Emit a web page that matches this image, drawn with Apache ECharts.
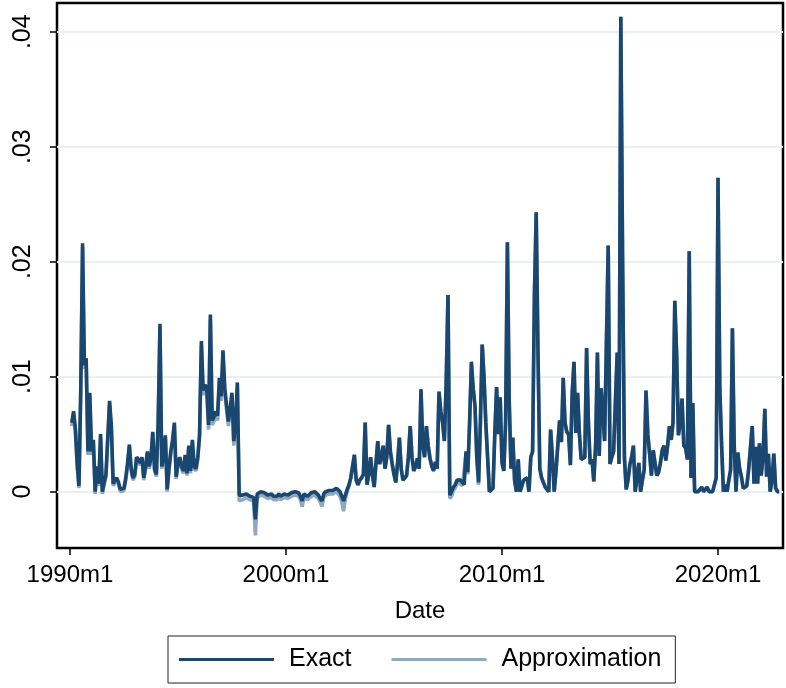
<!DOCTYPE html>
<html>
<head>
<meta charset="utf-8">
<script src="https://cdn.jsdelivr.net/npm/echarts@6/dist/echarts.min.js"></script>
<style>
html, body { margin: 0; padding: 0; background: #fff; }
#chart { width: 786px; height: 688px; }
</style>
</head>
<body>
<div id="chart"></div>
<script>
// first observation is 1990m2, months counted from 1990m1
var startMonth = 1;
var xTicks = [0, 120, 240, 360];
var yTicks = [0, 0.01, 0.02, 0.03, 0.04];

// Exact, one array per year
var ex1990 = [0.0060, 0.0070, 0.0055, 0.0025, 0.0005, 0.0090, 0.0216, 0.0110, 0.0116, 0.0035, 0.0086];
var ex1991 = [0.0035, 0.0045, 0.0000, 0.0022, 0.0007, 0.0050, 0.0000, 0.0008, 0.0015, 0.0015, 0.0079, 0.0057];
var ex1992 = [0.0007, 0.0010, 0.0012, 0.0008, 0.0002, 0.0003, 0.0003, 0.0012, 0.0025, 0.0041, 0.0020, 0.0012];
var ex1993 = [0.0015, 0.0030, 0.0028, 0.0025, 0.0030, 0.0012, 0.0022, 0.0035, 0.0022, 0.0030, 0.0052, 0.0020];
var ex1994 = [0.0015, 0.0060, 0.0146, 0.0022, 0.0030, 0.0049, 0.0002, 0.0020, 0.0035, 0.0045, 0.0060, 0.0013];
var ex1995 = [0.0025, 0.0030, 0.0022, 0.0018, 0.0032, 0.0016, 0.0040, 0.0018, 0.0045, 0.0022, 0.0020, 0.0030];
var ex1996 = [0.0050, 0.0131, 0.0088, 0.0093, 0.0090, 0.0058, 0.0154, 0.0062, 0.0065, 0.0070, 0.0066, 0.0099];
var ex1997 = [0.0083, 0.0123, 0.0090, 0.0075, 0.0061, 0.0073, 0.0086, 0.0044, 0.0060, 0.0095, -0.0003, -0.0003];
var ex1998 = [-0.0003, -0.0002, -0.0002, -0.0003, -0.0004, -0.0005, -0.0005, -0.0024, -0.0002, -0.0001, 0.0000, 0.0000];
var ex1999 = [-0.0001, -0.0002, -0.0003, -0.0003, -0.0002, -0.0004, -0.0003, -0.0004, -0.0002, -0.0004, -0.0003, -0.0002];
var ex2000 = [-0.0002, -0.0003, -0.0002, -0.0001, 0.0000, 0.0000, 0.0000, -0.0001, -0.0004, -0.0008, -0.0002, -0.0002];
var ex2001 = [-0.0004, -0.0003, -0.0001, 0.0000, 0.0000, -0.0001, -0.0003, -0.0006, -0.0008, -0.0002, 0.0000, 0.0000];
var ex2002 = [0.0001, 0.0001, 0.0001, 0.0002, 0.0003, 0.0003, 0.0000, -0.0004, -0.0008, -0.0003, 0.0002, 0.0006];
var ex2003 = [0.0012, 0.0022, 0.0032, 0.0010, 0.0006, 0.0010, 0.0012, 0.0015, 0.0060, 0.0006, 0.0015, 0.0030];
var ex2004 = [0.0015, 0.0004, 0.0025, 0.0044, 0.0024, 0.0030, 0.0040, 0.0020, 0.0030, 0.0058, 0.0035, 0.0024];
var ex2005 = [0.0015, 0.0008, 0.0025, 0.0047, 0.0020, 0.0010, 0.0012, 0.0014, 0.0030, 0.0057, 0.0030, 0.0018];
var ex2006 = [0.0022, 0.0029, 0.0020, 0.0089, 0.0040, 0.0030, 0.0057, 0.0040, 0.0029, 0.0022, 0.0018, 0.0026];
var ex2007 = [0.0020, 0.0087, 0.0070, 0.0060, 0.0044, 0.0095, 0.0171, -0.0003, 0.0000, 0.0004, 0.0006, 0.0010];
var ex2008 = [0.0010, 0.0010, 0.0008, 0.0006, 0.0035, 0.0017, 0.0060, 0.0113, 0.0090, 0.0075, 0.0030, 0.0008];
var ex2009 = [0.0060, 0.0128, 0.0100, 0.0060, 0.0030, 0.0000, 0.0000, 0.0003, 0.0050, 0.0091, 0.0050, 0.0082];
var ex2010 = [0.0025, 0.0018, 0.0060, 0.0217, 0.0080, 0.0020, 0.0047, 0.0010, 0.0000, 0.0028, 0.0000, 0.0005];
var ex2011 = [0.0010, 0.0010, 0.0012, 0.0000, 0.0030, 0.0035, 0.0170, 0.0243, 0.0120, 0.0020, 0.0012, 0.0008];
var ex2012 = [0.0004, 0.0002, 0.0000, 0.0054, 0.0030, 0.0000, 0.0018, 0.0018, 0.0062, 0.0043, 0.0099, 0.0060];
var ex2013 = [0.0052, 0.0050, 0.0023, 0.0086, 0.0113, 0.0051, 0.0086, 0.0050, 0.0028, 0.0027, 0.0030, 0.0125];
var ex2014 = [0.0060, 0.0024, 0.0028, 0.0009, 0.0040, 0.0121, 0.0031, 0.0090, 0.0070, 0.0044, 0.0044, 0.0214];
var ex2015 = [0.0024, 0.0030, 0.0035, 0.0036, 0.0121, 0.0024, 0.0413, 0.0200, 0.0030, 0.0002, 0.0010, 0.0023];
var ex2016 = [0.0030, 0.0040, 0.0000, 0.0000, 0.0025, 0.0000, 0.0010, 0.0019, 0.0088, 0.0050, 0.0033, 0.0014];
var ex2017 = [0.0036, 0.0025, 0.0014, 0.0017, 0.0025, 0.0036, 0.0040, 0.0027, 0.0040, 0.0057, 0.0045, 0.0060];
var ex2018 = [0.0166, 0.0120, 0.0049, 0.0060, 0.0081, 0.0040, 0.0038, 0.0028, 0.0209, 0.0012, 0.0077, 0.0000];
var ex2019 = [0.0000, 0.0000, 0.0000, 0.0004, 0.0000, 0.0000, 0.0004, 0.0000, 0.0000, 0.0000, 0.0000, 0.0012];
var ex2020 = [0.0273, 0.0090, 0.0040, 0.0000, 0.0006, 0.0000, 0.0010, 0.0019, 0.0142, 0.0040, 0.0000, 0.0034];
var ex2021 = [0.0020, 0.0013, 0.0003, 0.0003, 0.0005, 0.0019, 0.0019, 0.0057, 0.0007, 0.0039, 0.0007, 0.0042];
var ex2022 = [0.0014, 0.0030, 0.0072, 0.0013, 0.0033, 0.0000, 0.0010, 0.0033, 0.0003, 0.0000, 0.0000];

// Approximation, where it sits visibly apart from Exact
var ap1990 = [0.0057, 0.0067, 0.0052, 0.0022, 0.0003, 0.0087, 0.0213, 0.0107, 0.0113, 0.0032, 0.0083];
var ap1991 = [0.0032, 0.0042, -0.0002, 0.0019, 0.0005, 0.0047, -0.0002, 0.0006, 0.0013, 0.0013, 0.0076, 0.0054];
var ap1992 = [0.0005, 0.0008, 0.0010, 0.0006, 0.0000, 0.0001, 0.0001, 0.0010, 0.0023, 0.0039, 0.0018, 0.0010];
var ap1993 = [0.0013, 0.0028, 0.0026, 0.0023, 0.0028, 0.0010, 0.0020, 0.0033, 0.0020, 0.0028, 0.0050, 0.0018];
var ap1994 = [0.0013, 0.0058, 0.0143, 0.0020, 0.0028, 0.0047, 0.0000, 0.0018, 0.0033, 0.0043, 0.0058, 0.0011];
var ap1995 = [0.0023, 0.0028, 0.0020, 0.0016, 0.0030, 0.0014, 0.0038, 0.0016, 0.0043, 0.0020, 0.0018, 0.0028];
var ap1996 = [0.0047, 0.0127, 0.0084, 0.0089, 0.0086, 0.0054, 0.0150, 0.0058, 0.0061, 0.0066, 0.0062, 0.0095];
var ap1997 = [0.0079, 0.0119, 0.0086, 0.0071, 0.0057, 0.0069, 0.0082, 0.0040, 0.0056, 0.0091, -0.0008, -0.0007];
var ap1998 = [-0.0007, -0.0006, -0.0005, -0.0006, -0.0007, -0.0008, -0.0008, -0.0038, -0.0005, -0.0004, -0.0003, -0.0003];
var ap1999 = [-0.0004, -0.0005, -0.0006, -0.0006, -0.0005, -0.0007, -0.0006, -0.0007, -0.0005, -0.0007, -0.0006, -0.0005];
var ap2000 = [-0.0005, -0.0006, -0.0005, -0.0004, -0.0003, -0.0003, -0.0003, -0.0004, -0.0007, -0.0013, -0.0005, -0.0005];
var ap2001 = [-0.0007, -0.0006, -0.0004, -0.0003, -0.0003, -0.0004, -0.0006, -0.0009, -0.0013, -0.0005, -0.0003, -0.0003];
var ap2002 = [-0.0002, -0.0002, -0.0002, -0.0001, 0.0000, 0.0000, -0.0004, -0.0009, -0.0017, -0.0006, 0.0000, 0.0005];
var ap2007 = [0.0020, 0.0087, 0.0070, 0.0060, 0.0044, 0.0095, 0.0171, -0.0006, -0.0004, 0.0001, 0.0003, 0.0007];
var ap2008 = [0.0007, 0.0007, 0.0005, 0.0004, 0.0033, 0.0015, 0.0058, 0.0111, 0.0088, 0.0073, 0.0028, 0.0006];

var exact = [].concat(ex1990, ex1991, ex1992, ex1993, ex1994, ex1995, ex1996, ex1997, ex1998, ex1999,
    ex2000, ex2001, ex2002, ex2003, ex2004, ex2005, ex2006, ex2007, ex2008, ex2009, ex2010,
    ex2011, ex2012, ex2013, ex2014, ex2015, ex2016, ex2017, ex2018, ex2019, ex2020, ex2021, ex2022);
// 2003-2006 and 2009 onwards the two lines lie on top of each other
var approx = [].concat(ap1990, ap1991, ap1992, ap1993, ap1994, ap1995, ap1996, ap1997, ap1998, ap1999,
    ap2000, ap2001, ap2002, ex2003, ex2004, ex2005, ex2006, ap2007, ap2008, ex2009, ex2010,
    ex2011, ex2012, ex2013, ex2014, ex2015, ex2016, ex2017, ex2018, ex2019, ex2020, ex2021, ex2022);

function toPairs(arr){
    return arr.map(function (v, i) { return [startMonth + i, v]; });
}

var font = "'Liberation Sans', Arial, sans-serif";
var myChart = echarts.init(document.getElementById('chart'));

var option = {
    animation: false,
    backgroundColor: '#fff',
    textStyle: { fontFamily: font },
    grid: {
        left: 57,
        right: 3,
        top: 3,
        bottom: 140,
        show: true,
        borderColor: '#000',
        borderWidth: 2.5
    },
    legend: {
        left: 168,
        top: 636,
        orient: 'horizontal',
        icon: 'rect',
        itemWidth: 95,
        itemHeight: 3,
        itemGap: 40,
        padding: [11, 14, 11, 11],
        borderColor: '#222',
        borderWidth: 1,
        textStyle: { fontSize: 25, color: '#000', fontFamily: font, padding: [0, 0, 0, 10] },
        data: ['Exact', 'Approximation']
    },
    xAxis: {
        type: 'value',
        min: -7.2,
        max: 396.1,
        name: 'Date',
        nameLocation: 'middle',
        nameGap: 51,
        nameTextStyle: { fontSize: 24, color: '#000', fontFamily: font },
        axisLine: { show: false, onZero: false },
        axisTick: { show: true, length: 7, customValues: xTicks, lineStyle: { color: '#000', width: 1.5 } },
        axisLabel: {
            customValues: xTicks,
            fontSize: 24,
            color: '#000',
            margin: 15,
            formatter: function (v) { return (1990 + v / 12) + 'm1'; }
        },
        splitLine: { show: false }
    },
    yAxis: {
        type: 'value',
        min: -0.0049,
        max: 0.0425,
        axisLine: { show: false, onZero: false },
        axisTick: { show: true, length: 7, customValues: yTicks, lineStyle: { color: '#000', width: 1.5 } },
        axisLabel: {
            customValues: yTicks,
            rotate: 90,
            fontSize: 25,
            color: '#000',
            margin: 21,
            formatter: function (v) { return v === 0 ? '0' : String(+v.toFixed(2)).replace(/^0/, ''); }
        },
        splitLine: { show: true, lineStyle: { color: '#e8f0f2', width: 2 } }
    },
    series: [
        {
            name: 'Approximation',
            type: 'line',
            data: toPairs(approx),
            showSymbol: false,
            symbol: 'none',
            z: 2,
            lineStyle: { color: '#90a8c0', width: 3.6 },
            itemStyle: { color: '#90a8c0' }
        },
        {
            name: 'Exact',
            type: 'line',
            data: toPairs(exact),
            showSymbol: false,
            symbol: 'none',
            z: 3,
            lineStyle: { color: '#1a476f', width: 3.6 },
            itemStyle: { color: '#1a476f' }
        }
    ]
};
myChart.setOption(option);
</script>
</body>
</html>
